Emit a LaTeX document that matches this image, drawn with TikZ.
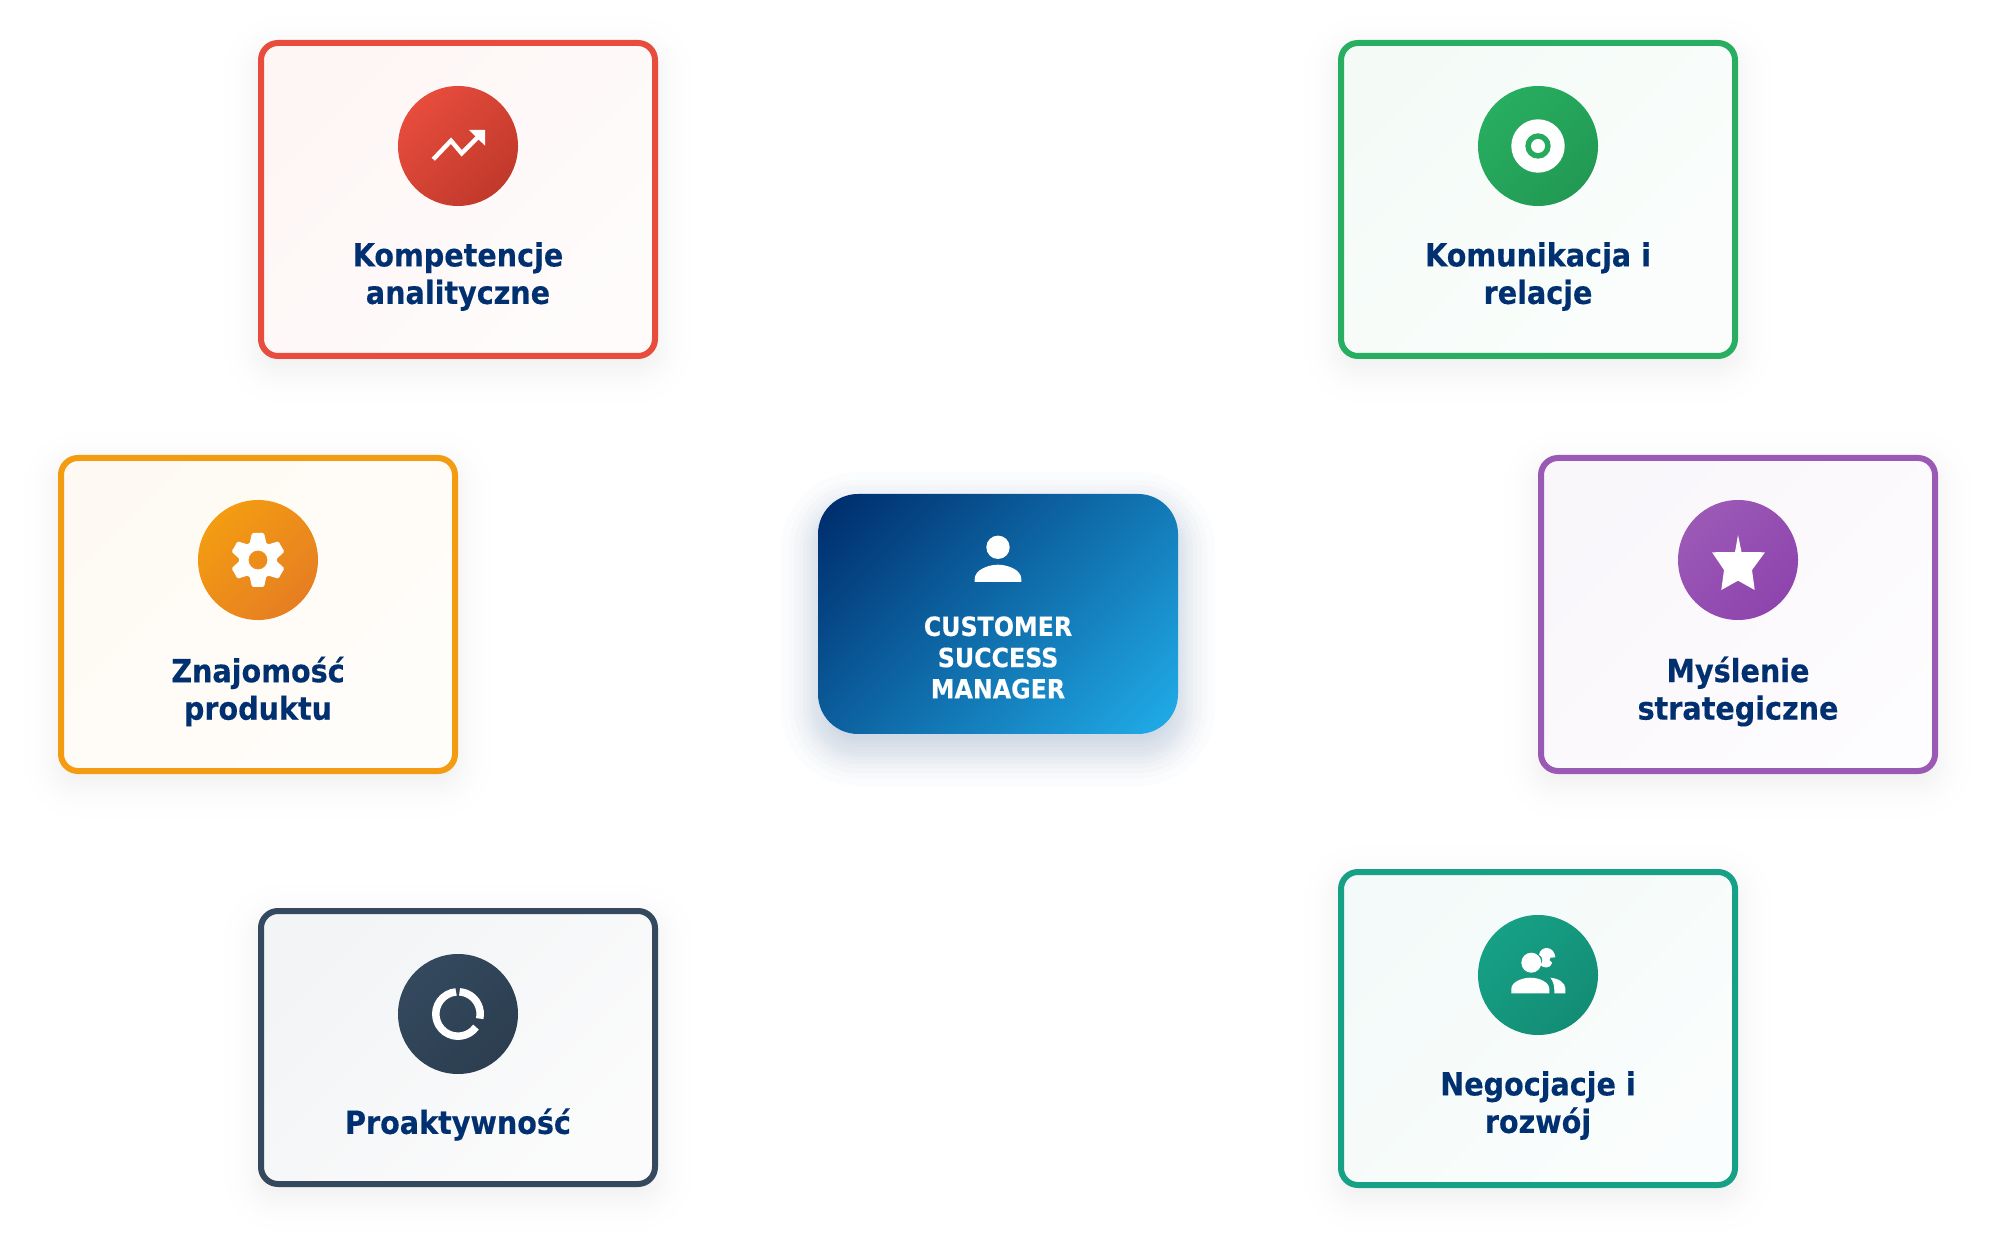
\documentclass[tikz,border=0pt]{standalone}
\usepackage{fontspec}
\setmainfont{DejaVu Sans Condensed}[BoldFeatures={FakeBold=0.3}]
\definecolor{redline}{HTML}{E74C3C}
\definecolor{reddark}{HTML}{C0392B}
\definecolor{greenline}{HTML}{27AE60}
\definecolor{greendark}{HTML}{229954}
\definecolor{orangeline}{HTML}{F39C12}
\definecolor{orangedark}{HTML}{E67E22}
\definecolor{purpleline}{HTML}{9B59B6}
\definecolor{purpledark}{HTML}{8E44AD}
\definecolor{navyline}{HTML}{34495E}
\definecolor{navydark}{HTML}{2C3E50}
\definecolor{tealline}{HTML}{16A085}
\definecolor{tealdark}{HTML}{138D75}
\definecolor{titleblue}{HTML}{003070}
\definecolor{hubdark}{HTML}{003070}
\definecolor{hublight}{HTML}{1FA8E4}
\pgfdeclarehorizontalshading{hubshade}{100bp}{color(0bp)=(hubdark); color(18bp)=(hubdark); color(82bp)=(hublight); color(100bp)=(hublight)}
\tikzset{
  diagfill/.style 2 args={left color=#1, right color=#2, shading angle=45},
  cardbox/.style={rounded corners=8.5pt, line width=3pt, inner sep=0pt, minimum width=197pt, minimum height=156.5pt},
  iconball/.style={circle, inner sep=0pt, minimum size=60pt},
  cardtext/.style={align=center, text=titleblue, font=\fontsize{15.9}{18.75}\selectfont\bfseries},
  hubtext/.style={align=center, text=white, font=\fontsize{13.2}{15.6}\selectfont\bfseries},
  icon/.style={fill=white, draw=none},
}
\begin{document}
\begin{tikzpicture}[x=0.5pt, y=-0.5pt]
  \useasboundingbox (0,0) rectangle (2002,1234);

  % soft shadows
  \foreach \cx/\cy/\cw/\ch in {458/199.5/400/319, 1538/199.5/400/319, 258/614.5/400/319, 1738/614.5/400/319, 458/1047.5/400/279, 1538/1028.5/400/319}
    \foreach \g in {-34,-24,-19,-15,-11,-9,-6,-4,-1,1,4,6,9,11,15,19,24,34}
      \fill[black, opacity=0.005, rounded corners={max(11+\g/2,2)*1pt}]
        (\cx-\cw/2-\g, \cy+10-\ch/2-\g) rectangle (\cx+\cw/2+\g, \cy+10+\ch/2+\g);
  \foreach \g in {-37,-29,-24,-19,-15,-11,-8,-5,-2,2,5,8,11,15,19,24,29,37}
    \fill[hubdark, opacity=0.016, rounded corners={max(20+\g/2,2)*1pt}]
      (818-\g, 509-\g) rectangle (1178+\g, 749+\g);

  % cards
  \node[cardbox, draw=redline, diagfill={redline!5}{redline!2}] (kompetencje) at (458,199.5) {};
  \node[cardbox, draw=greenline, diagfill={greenline!5}{greenline!2}] (komunikacja) at (1538,199.5) {};
  \node[cardbox, draw=orangeline, diagfill={orangeline!5}{orangeline!2}] (znajomosc) at (258,614.5) {};
  \node[cardbox, draw=purpleline, diagfill={purpleline!5}{purpleline!2}] (myslenie) at (1738,614.5) {};
  \node[cardbox, draw=navyline, minimum height=136.5pt, diagfill={navyline!6}{navyline!2}] (proaktywnosc) at (458,1047.5) {};
  \node[cardbox, draw=tealline, diagfill={tealline!5}{tealline!2}] (negocjacje) at (1538,1028.5) {};

  % icon circles
  \node[iconball, diagfill={redline}{reddark}] (redball) at (458,146) {};
  \node[iconball, diagfill={greenline}{greendark}] (greenball) at (1538,146) {};
  \node[iconball, diagfill={orangeline}{orangedark}] (orangeball) at (258,560) {};
  \node[iconball, diagfill={purpleline}{purpledark}] (purpleball) at (1738,560) {};
  \node[iconball, diagfill={navyline}{navydark}] (navyball) at (458,1014) {};
  \node[iconball, diagfill={tealline}{tealdark}] (tealball) at (1538,975) {};

  % labels
  \node[cardtext] (kompetencjetext) at (458,276.5) {Kompetencje\\analityczne};
  \node[cardtext] (komunikacjatext) at (1538,276.5) {Komunikacja i\\relacje};
  \node[cardtext] (znajomosctext) at (258,691.5) {Znajomość\\produktu};
  \node[cardtext] (myslenietext) at (1738,691.5) {Myślenie\\strategiczne};
  \node[cardtext] (proaktywnosctext) at (458,1124.5) {Proaktywność};
  \node[cardtext] (negocjacjetext) at (1538,1105.5) {Negocjacje i\\rozwój};

  % centre box
  \node[rounded corners=20pt, inner sep=0pt, minimum width=180pt, minimum height=120pt, shading=hubshade, shading angle=-45] (hub) at (998,614) {};
  \node[hubtext] (hubtext) at (998,657.5) {CUSTOMER\\SUCCESS\\MANAGER};

  % person
  \begin{scope}[shift={(998,582)}]
    \fill[icon] (0,-34.7) circle[radius=11.7];
    \fill[icon] (-23.3,0) -- (-23.3,-3) .. controls (-23.3,-12) and (-10,-17.3) .. (0,-17.3)
      .. controls (10,-17.3) and (23.3,-12) .. (23.3,-3) -- (23.3,0) -- cycle;
  \end{scope}

  % trend arrow
  \begin{scope}[shift={(458,146)}]
    \draw[white, line width=2.2pt] (-24.7,13.3) -- (-7,-5.3) -- (3.7,7.3) -- (20.3,-9.3);
    \fill[icon] (27,-16) -- (11,-16) -- (27,-0.3) -- cycle;
  \end{scope}

  % target
  \begin{scope}[shift={(1538,146)}]
    \fill[icon] (0,0) circle[radius=26.7];
    \fill[greenline!85!greendark] (0,0) circle[radius=12.7];
    \fill[icon] (0,0) circle[radius=7];
  \end{scope}

  % gear
  \begin{scope}[shift={(258,560)}]
    \foreach \a in {0,60,...,300}
      \fill[icon, rotate=\a, rounded corners=0.6pt] (-6,-27) -- (6,-27) -- (8.5,-16) -- (-8.5,-16) -- cycle;
    \fill[icon, even odd rule] (0,0) circle[radius=19] (0,0) circle[radius=9.5];
  \end{scope}

  % star
  \begin{scope}[shift={(1738,560)}]
    \fill[icon] (0,-25) -- (3.5,-8) -- (27,-7.7) -- (14,10) -- (16.7,30) -- (0,20.7)
      -- (-16.7,30) -- (-14,10) -- (-26,-7.7) -- (-3,-8) -- cycle;
  \end{scope}

  % ring
  \begin{scope}[shift={(458,1014)}]
    \draw[white, line width=3.75pt] (-86:22.2) arc[start angle=-86, end angle=12, radius=22.2];
    \draw[white, line width=3.75pt] (36:22.2) arc[start angle=36, end angle=265, radius=22.2];
  \end{scope}

  % people
  \begin{scope}[shift={(1538,975)}]
    \fill[icon] (-6.7,-12.3) circle[radius=10];
    \fill[icon] (1,-20.3) .. controls (2,-25) and (5,-27) .. (9,-27)
      .. controls (14,-27) and (17,-22) .. (17.3,-17.7) -- (12.5,-17.3) -- (11.5,-15) -- (14,-12.3)
      .. controls (13,-9) and (11,-7.5) .. (8.3,-7.5) .. controls (6,-7.5) and (4,-8.5) .. (2.3,-10)
      .. controls (4,-12) and (4.5,-13.5) .. (4.3,-15) .. controls (4,-17.5) and (3,-19.5) .. (1,-20.3) -- cycle;
    \fill[icon] (-26.7,18.3) -- (-26.7,14) .. controls (-26.7,7) and (-16,2.7) .. (-7.7,2.7)
      .. controls (1,2.7) and (11.3,7) .. (11.3,14) -- (11.3,18.3) -- cycle;
    \fill[icon] (12.3,2.7) .. controls (21,3.5) and (27.3,8) .. (27.3,13.3) -- (27.3,18.3) -- (16.3,18.3) -- (16.3,15)
      .. controls (16.3,10) and (15,6) .. (12.3,2.7) -- cycle;
  \end{scope}
\end{tikzpicture}
\end{document}
